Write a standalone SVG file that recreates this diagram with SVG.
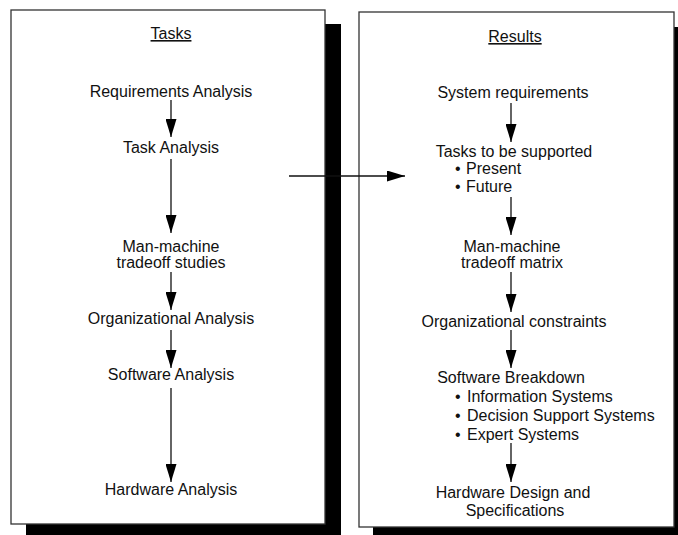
<svg xmlns="http://www.w3.org/2000/svg" width="678" height="535" viewBox="0 0 678 535">
<defs>
<style>
.t{font-family:"Liberation Sans",Arial,Helvetica,sans-serif;font-size:16px;fill:#111;}
.c{text-anchor:middle;}
.box{fill:#fff;stroke:#333;stroke-width:1.3;}
.sh{fill:#000;}
.ln{stroke:#111;stroke-width:1.3;fill:none;marker-end:url(#ah);}
</style>
<marker id="ah" markerUnits="userSpaceOnUse" markerWidth="18" markerHeight="11" refX="18" refY="5.5" orient="auto">
<path d="M0,0 L18,5.5 L0,11 Z" fill="#000"/>
</marker>
</defs>
<rect width="678" height="535" fill="#fff"/>
<g id="tasks-panel">
<rect class="sh" x="26" y="24" width="315" height="520"/>
<rect class="box" x="11" y="10" width="314" height="514"/>
<text class="t c" x="171" y="39" text-decoration="underline">Tasks</text>
</g>
<g id="results-panel">
<rect class="sh" x="373" y="27" width="320" height="520"/>
<rect class="box" x="359" y="12" width="315" height="515"/>
<text class="t c" x="515" y="42" text-decoration="underline">Results</text>
</g>
<g id="n-req"><text class="t c" x="171" y="97">Requirements Analysis</text></g>
<g id="n-task"><text class="t c" x="171" y="153">Task Analysis</text></g>
<g id="n-mm"><text class="t c" x="171" y="252">Man-machine</text><text class="t c" x="171" y="268">tradeoff studies</text></g>
<g id="n-org"><text class="t c" x="171" y="324">Organizational Analysis</text></g>
<g id="n-sw"><text class="t c" x="171" y="380">Software Analysis</text></g>
<g id="n-hw"><text class="t c" x="171" y="495">Hardware Analysis</text></g>
<g id="r-sys"><text class="t c" x="513" y="98">System requirements</text></g>
<g id="r-tasks"><text class="t c" x="514" y="157">Tasks to be supported</text>
<text class="t" x="455" y="174">•</text><text class="t" x="466" y="174">Present</text>
<text class="t" x="455" y="192">•</text><text class="t" x="466" y="192">Future</text></g>
<g id="r-mm"><text class="t c" x="512" y="252">Man-machine</text><text class="t c" x="512" y="268">tradeoff matrix</text></g>
<g id="r-org"><text class="t c" x="514" y="327">Organizational constraints</text></g>
<g id="r-sw"><text class="t c" x="511" y="383">Software Breakdown</text>
<text class="t" x="455" y="402">•</text><text class="t" x="467" y="402">Information Systems</text>
<text class="t" x="455" y="421">•</text><text class="t" x="467" y="421">Decision Support Systems</text>
<text class="t" x="455" y="440">•</text><text class="t" x="467" y="440">Expert Systems</text></g>
<g id="r-hw"><text class="t c" x="513" y="498">Hardware Design and</text><text class="t c" x="515" y="516">Specifications</text></g>
<g id="connectors">
<line class="ln" x1="171" y1="100" x2="171" y2="137"/>
<line class="ln" x1="171" y1="159" x2="171" y2="233"/>
<line class="ln" x1="171" y1="272" x2="171" y2="310"/>
<line class="ln" x1="171" y1="330" x2="171" y2="368"/>
<line class="ln" x1="171" y1="388" x2="171" y2="482"/>
<line class="ln" x1="289" y1="176" x2="405" y2="176"/>
<line class="ln" x1="511" y1="103" x2="511" y2="142"/>
<line class="ln" x1="511" y1="197" x2="511" y2="235"/>
<line class="ln" x1="511" y1="272" x2="511" y2="312"/>
<line class="ln" x1="511" y1="330" x2="511" y2="368"/>
<line class="ln" x1="511" y1="443" x2="511" y2="482"/>
</g>
</svg>
